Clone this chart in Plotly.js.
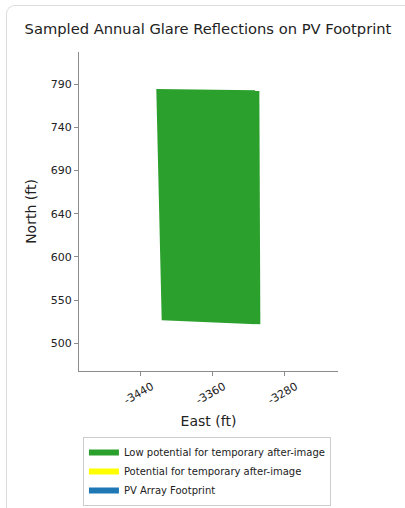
<!DOCTYPE html>
<html>
<head>
<meta charset="utf-8">
<script src="https://cdn.plot.ly/plotly-3.0.1.min.js"></script>
<style>
html, body { margin: 0; padding: 0; background: #ffffff; }
#card { position: absolute; left: 6px; top: 5px; width: 420px; height: 520px;
        border-left: 1px solid #dcdcdc; border-top: 1px solid #dcdcdc; border-top-left-radius: 9px; }
#chart { position: absolute; left: 0; top: 0; width: 405px; height: 508px; }
</style>
</head>
<body>
<div id="card"></div>
<div id="chart"></div>
<script>
// Glare polygon (East, North in ft)
const glareEast  = [-3422.7, -3308.2, -3307.1, -3416.7];
const glareNorth = [784.4, 783.0, 521.2, 525.7];
// Potential-for-after-image polygon: none sampled
const potentialEast  = [null];
const potentialNorth = [null];
// PV array footprint (fully covered by the glare polygon)
const footprintEast  = [null];
const footprintNorth = [null];

const seriesNames = ["Low potential for temporary after-image", "Potential for temporary after-image", "PV Array Footprint"];
const xTickVals = [-3440, -3360, -3280];
const xTickText = ["-3440", "-3360", "-3280"];
const yTickVals = [500, 548.33, 596.67, 645, 693.33, 741.67, 790];
const yTickText = ["500", "550", "600", "640", "690", "740", "790"];

const traces = [
  { x: glareEast, y: glareNorth, type: "scatter", mode: "none", fill: "toself",
    fillcolor: "#2ca02c", name: seriesNames[0] },
  { x: potentialEast, y: potentialNorth, type: "scatter", mode: "none", fill: "toself",
    fillcolor: "#ffff00", name: seriesNames[1] },
  { x: footprintEast, y: footprintNorth, type: "scatter", mode: "none", fill: "toself",
    fillcolor: "#1f77b4", name: seriesNames[2] }
];

const font = "DejaVu Sans, sans-serif";
const layout = {
  width: 405, height: 508,
  margin: { l: 79, r: 67, t: 52, b: 137, autoexpand: false },
  paper_bgcolor: "rgba(0,0,0,0)",
  plot_bgcolor: "#ffffff",
  font: { family: font, color: "#222222", size: 11 },
  title: { text: "Sampled Annual Glare Reflections on PV Footprint", x: 208 / 405, xanchor: "center",
           y: 1 - 29 / 508, yanchor: "middle", yref: "container", font: { size: 14.7, family: font, color: "#222222" } },
  xaxis: {
    range: [-3508.6, -3220.8], showgrid: false, zeroline: false, showline: true,
    linecolor: "#8c8c8c", linewidth: 1, ticks: "outside", ticklen: 4, tickcolor: "#8c8c8c",
    tickvals: xTickVals, ticktext: xTickText, tickangle: -30, ticklabelshift: 11,
    tickfont: { size: 11, family: font, color: "#222222" },
    title: { text: "East (ft)", font: { size: 14, family: font, color: "#222222" }, standoff: 10 }
  },
  yaxis: {
    range: [469, 825.8], showgrid: false, zeroline: false, showline: true,
    linecolor: "#8c8c8c", linewidth: 1, ticks: "outside", ticklen: 4, tickcolor: "#8c8c8c",
    tickvals: yTickVals, ticktext: yTickText,
    tickfont: { size: 11, family: font, color: "#222222" },
    title: { text: "North (ft)", font: { size: 14, family: font, color: "#222222" }, standoff: 10 }
  },
  showlegend: true,
  legend: {
    x: 0.494, xanchor: "center", yref: "container", y: 1 - 437 / 508, yanchor: "top",
    bordercolor: "#cccccc", borderwidth: 1, bgcolor: "#ffffff",
    font: { size: 10, family: font, color: "#222222" }, traceorder: "normal"
  }
};

Plotly.newPlot("chart", traces, layout, { displayModeBar: false, staticPlot: true });
</script>
</body>
</html>
